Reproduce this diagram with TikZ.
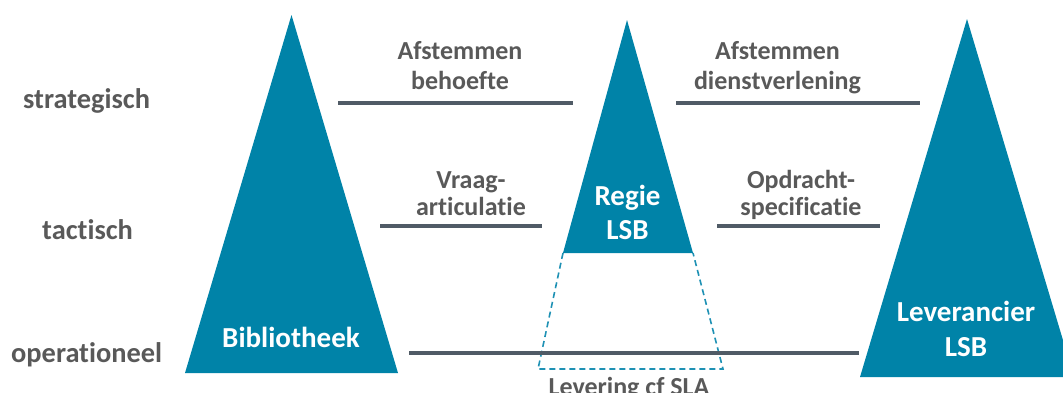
\documentclass[tikz,border=0pt]{standalone}
\usepackage{fontspec}
\setmainfont{Carlito}[Ligatures=NoCommon]
\begin{document}
\begin{tikzpicture}[x=1pt,y=-1pt,
  tri/.style={fill=teal0,draw=none},
  link/.style={draw=line0,line width=4.2pt},
  lvl/.style={text=text0,font=\bfseries\fontsize{28.4}{30}\selectfont,inner sep=0pt,anchor=base west},
  lbl/.style={text=text0,font=\bfseries\fontsize{26}{30}\selectfont,align=center,inner sep=0pt,anchor=base},
  wlbl/.style={text=white,font=\bfseries\fontsize{29}{34}\selectfont,align=center,inner sep=0pt,anchor=base},
  sla/.style={draw=dash0,line width=1.6pt,dash pattern=on 6pt off 4pt}]
\definecolor{teal0}{RGB}{0,131,168}
\definecolor{line0}{RGB}{80,91,102}
\definecolor{text0}{RGB}{89,89,89}
\definecolor{dash0}{RGB}{30,145,180}
\useasboundingbox (0,0) rectangle (1063,392);
% triangles
\path[tri] (291.5,15) -- (398,373) -- (185,373) -- cycle;
\path[tri] (967,19) -- (1074,377) -- (860,377) -- cycle;
\path[tri] (627,20) -- (693,253) -- (563,253) -- cycle;
% dashed continuation
\coordinate (tl) at (563,253);
\coordinate (tr) at (693,253);
\coordinate (bl) at (538,369);
\coordinate (br) at (723,369);
\draw[sla] (tl) -- (bl) -- (br) -- (tr);
% link endpoints
\coordinate (s1a) at (338,103); \coordinate (s1b) at (573,103);
\coordinate (s2a) at (676,103); \coordinate (s2b) at (920,103);
\coordinate (t1a) at (380,226); \coordinate (t1b) at (542,226);
\coordinate (t2a) at (717,226); \coordinate (t2b) at (880,226);
\coordinate (o1a) at (409,353); \coordinate (o1b) at (859,353);
\draw[link] (s1a) -- (s1b);
\draw[link] (s2a) -- (s2b);
\draw[link] (t1a) -- (t1b);
\draw[link] (t2a) -- (t2b);
\draw[link] (o1a) -- (o1b);
% level labels
\node[lvl] (strat) at (23,108) {strategisch};
\node[lvl] (tact) at (42,239) {tactisch};
\node[lvl] (oper) at (11,362) {operationeel};
% link labels
\node[lbl] (ab1) at (460,59) {Afstemmen};
\node[lbl] (ab2) at (460,89) {behoefte};
\node[lbl] (ad1) at (777.5,59) {Afstemmen};
\node[lbl] (ad2) at (777.5,89) {dienstverlening};
\node[lbl] (va1) at (471,188) {Vraag-};
\node[lbl] (va2) at (471,215) {articulatie};
\node[lbl] (os1) at (801,188) {Opdracht-};
\node[lbl] (os2) at (801,215) {specificatie};
\node[lbl] (lev) at (629,395) {Levering cf SLA};
% actor labels
\node[wlbl] (bib) at (291,347) {Bibliotheek};
\node[wlbl] (reg1) at (627.5,205) {Regie};
\node[wlbl] (reg2) at (627.5,239) {LSB};
\node[wlbl] (lev1) at (966,321) {Leverancier};
\node[wlbl] (lev2) at (966,356) {LSB};
\end{tikzpicture}
\end{document}
